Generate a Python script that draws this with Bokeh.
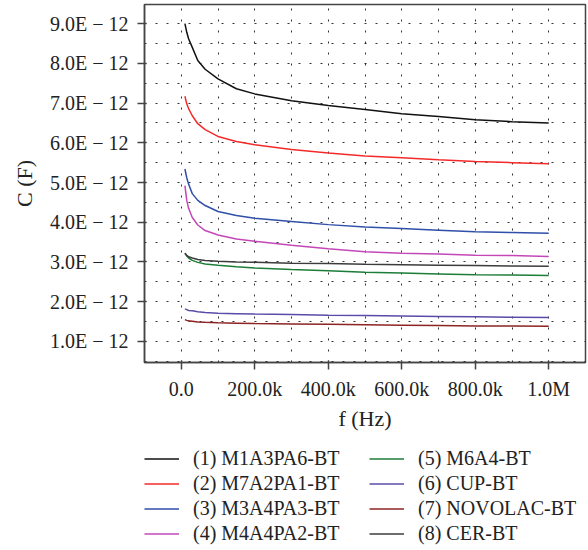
import numpy as np
from bokeh.plotting import figure
from bokeh.layouts import column
from bokeh.models import (Range1d, FixedTicker, CustomJSTickFormatter, Legend,
                          LegendItem)
from bokeh.embed import file_html
from bokeh.resources import INLINE

# frequency (kHz)
freq_khz = [10, 15, 20, 30, 45, 65, 100, 150, 200, 300, 400, 500, 600, 700, 800, 900, 1000]

# capacitance in pF (x 1E-12 F)
c_m1a3pa6 = [9.00, 8.78, 8.62, 8.40, 8.07, 7.85, 7.61, 7.36, 7.23, 7.06, 6.94, 6.84, 6.73, 6.66, 6.58, 6.53, 6.50]
c_m7a2pa1 = [7.17, 6.98, 6.86, 6.68, 6.48, 6.33, 6.16, 6.03, 5.95, 5.83, 5.74, 5.67, 5.62, 5.57, 5.53, 5.50, 5.47]
c_m3a4pa3 = [5.34, 5.12, 4.96, 4.72, 4.55, 4.42, 4.27, 4.17, 4.10, 4.02, 3.94, 3.88, 3.84, 3.80, 3.76, 3.74, 3.72]
c_m4a4pa2 = [4.92, 4.55, 4.35, 4.12, 3.93, 3.79, 3.68, 3.58, 3.52, 3.42, 3.33, 3.26, 3.22, 3.20, 3.17, 3.16, 3.14]
c_m6a4 = [3.22, 3.15, 3.10, 3.04, 2.99, 2.95, 2.92, 2.88, 2.85, 2.81, 2.78, 2.74, 2.72, 2.70, 2.68, 2.67, 2.66]
c_cup = [1.82, 1.80, 1.78, 1.77, 1.75, 1.73, 1.71, 1.70, 1.69, 1.68, 1.66, 1.65, 1.64, 1.63, 1.62, 1.61, 1.60]
c_novolac = [1.55, 1.53, 1.52, 1.51, 1.49, 1.48, 1.47, 1.46, 1.45, 1.44, 1.43, 1.42, 1.41, 1.40, 1.39, 1.39, 1.38]
c_cer = [3.22, 3.17, 3.13, 3.10, 3.06, 3.04, 3.02, 3.00, 2.99, 2.97, 2.96, 2.94, 2.93, 2.92, 2.91, 2.90, 2.89]

series_labels = ["(1) M1A3PA6-BT", "(2) M7A2PA1-BT", "(3) M3A4PA3-BT", "(4) M4A4PA2-BT",
                 "(5) M6A4-BT", "(6) CUP-BT", "(7) NOVOLAC-BT", "(8) CER-BT"]
series_values = [c_m1a3pa6, c_m7a2pa1, c_m3a4pa3, c_m4a4pa2, c_m6a4, c_cup, c_novolac, c_cer]
series_colors = ["#111111", "#F42A2A", "#2F4FA8", "#C447B8", "#1C7D38", "#5B4BA8", "#8E2323", "#3C3C3C"]

y_ticks_pf = [1, 2, 3, 4, 5, 6, 7, 8, 9]
y_minor_pf = [0.5, 1.5, 2.5, 3.5, 4.5, 5.5, 6.5, 7.5, 8.5]
x_ticks_khz = [0, 200, 400, 600, 800, 1000]
x_minor_khz = [100, 300, 500, 700, 900]

FONT = "Liberation Serif"
AXC = "#444444"
TXT = "#222222"

x = [f * 1e3 for f in freq_khz]

# ---------------- main plot ----------------
p = figure(width=588, height=436, output_backend="svg", toolbar_location=None,
           x_range=Range1d(-100e3, 1100e3), y_range=Range1d(0.47e-12, 9.48e-12),
           min_border_left=144, min_border_right=3, min_border_top=4,
           min_border_bottom=74)

p.outline_line_color = AXC
p.outline_line_width = 1.5
p.background_fill_color = "white"
p.border_fill_color = "white"

for vals, col in zip(series_values, series_colors):
    p.line(x, [v * 1e-12 for v in vals], line_color=col, line_width=1.5)

p.yaxis.ticker = FixedTicker(ticks=[t * 1e-12 for t in y_ticks_pf],
                             minor_ticks=[t * 1e-12 for t in y_minor_pf])
p.xaxis.ticker = FixedTicker(ticks=[t * 1e3 for t in x_ticks_khz],
                             minor_ticks=[t * 1e3 for t in x_minor_khz])
p.yaxis.formatter = CustomJSTickFormatter(code="return (tick*1e12).toFixed(1) + 'E \u2212 12';")
p.xaxis.formatter = CustomJSTickFormatter(code="""
if (Math.abs(tick) < 1e-9) return '0.0';
if (Math.abs(tick) >= 1e6) return (tick/1e6).toFixed(1) + 'M';
return (tick/1e3).toFixed(1) + 'k';
""")
for ax in (p.xaxis, p.yaxis):
    ax.axis_line_color = AXC
    ax.axis_line_width = 1.5
    ax.major_tick_line_color = AXC
    ax.major_tick_line_width = 1.5
    ax.major_tick_out = 7
    ax.major_tick_in = 2
    ax.minor_tick_line_color = None
    ax.major_label_text_font = FONT
    ax.major_label_text_font_size = "20px"
    ax.major_label_text_color = TXT
    ax.axis_label_text_font = FONT
    ax.axis_label_text_font_size = "22px"
    ax.axis_label_text_font_style = "normal"
    ax.axis_label_text_color = TXT
p.yaxis.major_label_standoff = 9
p.xaxis.major_label_standoff = 8
p.yaxis.axis_label = "C (F)"
p.xaxis.axis_label = "f (Hz)"
p.yaxis.axis_label_standoff = 10
p.xaxis.axis_label_standoff = 3

for g in (p.xgrid, p.ygrid):
    g.grid_line_color = "black"
    g.grid_line_dash = "2 9"
    g.grid_line_alpha = 0.8
    g.minor_grid_line_color = "black"
    g.minor_grid_line_dash = "2 9"
    g.minor_grid_line_alpha = 0.8

# ---------------- legend strip ----------------
q = figure(width=588, height=114, output_backend="svg", toolbar_location=None,
           x_axis_location=None, y_axis_location=None,
           min_border_left=144, min_border_right=0, min_border_top=10,
           min_border_bottom=0)
q.outline_line_color = None
q.grid.visible = False
q.background_fill_color = "white"
q.border_fill_color = "white"

leg_renderers = []
for vals, col in zip(series_values, series_colors):
    r = q.line(x, [v * 1e-12 for v in vals], line_color=col, line_width=1.5,
               visible=False)
    leg_renderers.append(r)

order = [0, 4, 1, 5, 2, 6, 3, 7]
items = [LegendItem(label=series_labels[i], renderers=[leg_renderers[i]]) for i in order]
legend = Legend(items=items, location="top_left", orientation="horizontal", ncols=2,
                padding=0, spacing=0, margin=0,
                glyph_width=35, glyph_height=25, label_height=25, label_width=176,
                label_standoff=14,
                label_text_font=FONT, label_text_font_size="20px",
                label_text_color=TXT, border_line_color=None,
                background_fill_alpha=0, inactive_fill_alpha=0)
q.add_layout(legend, "center")

layout = column(p, q, spacing=0)
open("out.html", "w").write(file_html(layout, INLINE))
